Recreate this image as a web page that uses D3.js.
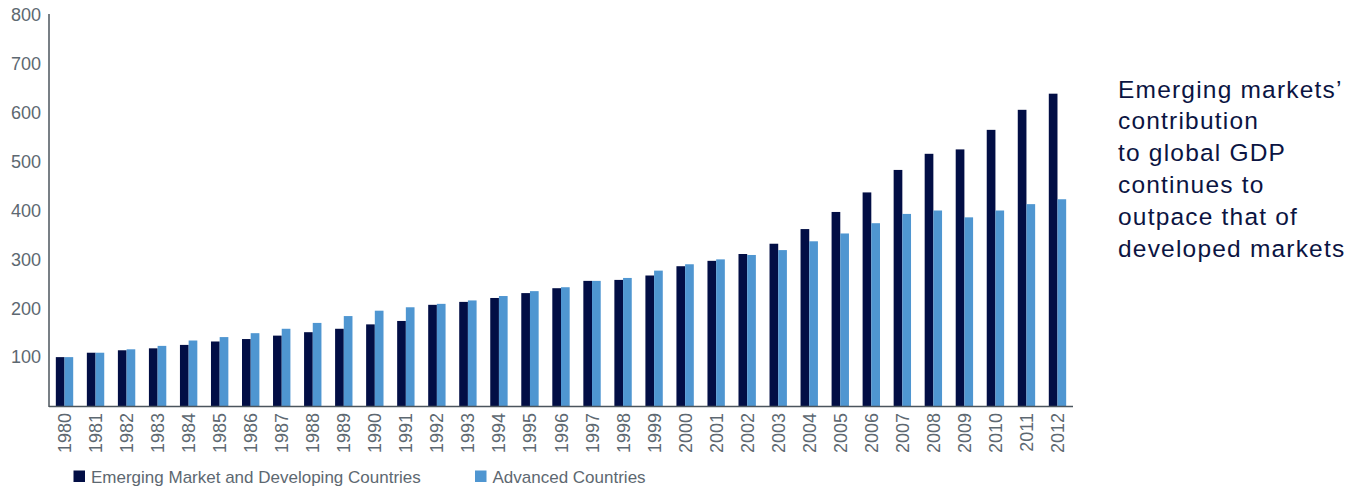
<!DOCTYPE html>
<html><head><meta charset="utf-8">
<script src="https://cdn.jsdelivr.net/npm/d3@7"></script>
<style>
html,body{margin:0;padding:0;background:#fff;}
svg{display:block;font-family:"Liberation Sans",Arial,Helvetica,sans-serif;}
</style></head>
<body><svg id="c" width="1362" height="492"></svg>
<script>
const years = ["1980","1981","1982","1983","1984","1985","1986","1987","1988","1989","1990","1991","1992","1993","1994","1995","1996","1997","1998","1999","2000","2001","2002","2003","2004","2005","2006","2007","2008","2009","2010","2011","2012"];
const emerging = [100,109,114,118,125,132,137,144,151,158,167,174,207,213,221,231,241,256,258,267,286,297,311,332,362,397,437,483,516,525,565,606,639];
const advanced = [100,109,116,123,134,141,149,158,170,184,195,202,209,216,225,235,243,256,262,277,290,300,309,319,337,353,374,393,400,386,400,413,423];
const seriesNames = ["Emerging Market and Developing Countries","Advanced Countries"];
const yTicks = [100,200,300,400,500,600,700,800];
const annotation = ["Emerging markets\u2019","contribution","to global GDP","continues to","outpace that of","developed markets"];

(function(){
const colors = ["#020e45","#4f96d1"];
const svg = d3.select("#c");
const mL = 49, mR = 1073, mT = 15, mB = 406;

const x = d3.scaleBand().domain(years).range([mL, mR]).paddingInner(0.44).paddingOuter(0.22);
const x1 = d3.scaleBand().domain([0,1]).range([0, x.bandwidth()]);
const y = d3.scaleLinear().domain([0, 800]).range([mB, mT]);

const data = years.map((yr, i) => ({year: yr, vals: [emerging[i], advanced[i]]}));

const g = svg.append("g");
const grp = g.selectAll("g.grp").data(data).join("g").attr("class","grp")
  .attr("transform", d => `translate(${x(d.year)},0)`);
grp.selectAll("rect").data(d => d.vals.map((v, k) => ({v, k}))).join("rect")
  .attr("x", d => x1(d.k))
  .attr("width", x1.bandwidth())
  .attr("y", d => y(d.v))
  .attr("height", d => y(0) - y(d.v))
  .attr("fill", d => colors[d.k]);

// y axis
const yAxis = d3.axisLeft(y).tickValues(yTicks).tickSize(0).tickPadding(8);
const ya = svg.append("g").attr("transform", `translate(${mL},0)`).call(yAxis);
ya.select(".domain").remove();
ya.selectAll("text").attr("fill","#5d6871").attr("font-size",18).attr("font-family","Liberation Sans, Arial, sans-serif");
svg.append("line").attr("x1",mL).attr("x2",mL).attr("y1",y(800)-1).attr("y2",mB+1)
  .attr("stroke","#4b555d").attr("stroke-width",1.5);

// x axis
const xAxis = d3.axisBottom(x).tickSize(0).tickPadding(0);
const xa = svg.append("g").attr("transform", `translate(0,${mB})`).call(xAxis);
xa.select(".domain").remove();
xa.selectAll("text")
  .attr("fill","#5d6871").attr("font-size",18).attr("font-family","Liberation Sans, Arial, sans-serif")
  .attr("text-anchor","end").attr("dy",null).attr("y",0).attr("x",0)
  .attr("transform","translate(6.5,7) rotate(-90)");
svg.append("line").attr("x1",mL).attr("x2",mR).attr("y1",mB+0.5).attr("y2",mB+0.5)
  .attr("stroke","#4b555d").attr("stroke-width",1.5);

// legend
const legX = [73.5, 475];
const leg = svg.append("g");
seriesNames.forEach((n, k) => {
  leg.append("rect").attr("x", legX[k]).attr("y", 470.5).attr("width", 11.5).attr("height", 11.5).attr("fill", colors[k]);
  leg.append("text").attr("x", legX[k] + 17.5).attr("y", 482.5).attr("font-size", 17)
    .attr("fill","#5d6871").text(n);
});

// annotation
const ann = svg.append("text").attr("x",1118).attr("font-size",24.5).attr("fill","#0b1442").attr("letter-spacing",1.2);
annotation.forEach((t, i) => {
  ann.append("tspan").attr("x",1118).attr("y",97.5 + i*31.9).text(t);
});
})();
</script></body></html>
